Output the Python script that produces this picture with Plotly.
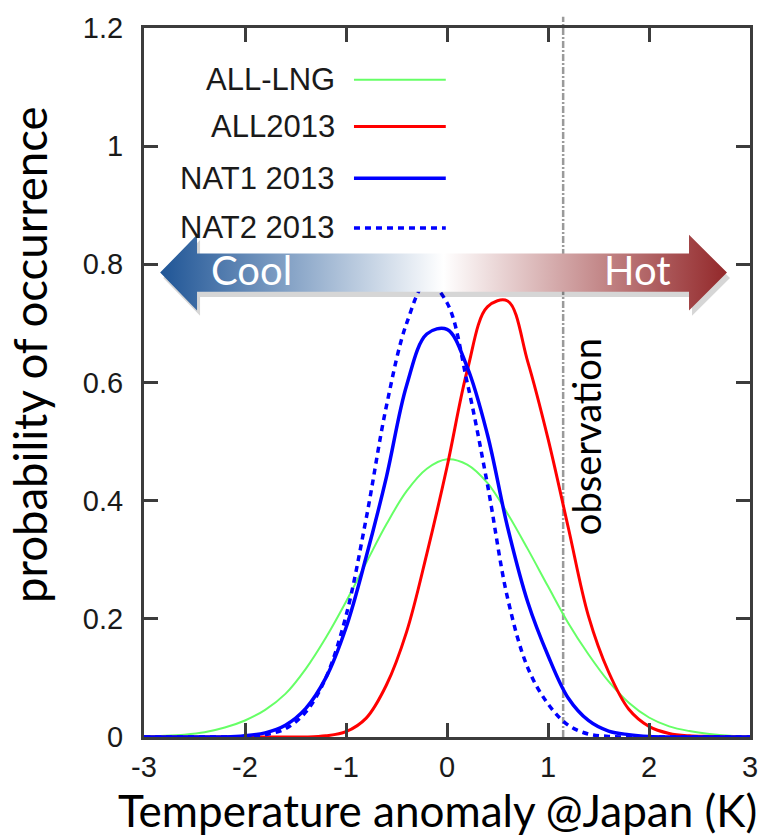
import plotly.graph_objects as go

# ---------------- data ----------------
x_grid = [-3.0, -2.8, -2.6, -2.4, -2.2, -2.0, -1.8, -1.6, -1.4, -1.2, -1.0,
          -0.8, -0.6, -0.4, -0.2, 0.0, 0.2, 0.4, 0.6, 0.8, 1.0,
          1.2, 1.4, 1.6, 1.8, 2.0, 2.2, 2.4, 2.6, 2.8, 3.0]

all_lng = [0.001, 0.002, 0.004, 0.008, 0.016, 0.028, 0.046, 0.073, 0.115, 0.168, 0.229,
           0.295, 0.360, 0.416, 0.454, 0.470, 0.461, 0.430, 0.378, 0.318, 0.255,
           0.193, 0.140, 0.094, 0.058, 0.033, 0.018, 0.010, 0.005, 0.002, 0.001]

all2013 = [0.0, 0.0, 0.0, 0.0, 0.0, 0.0, 0.0, 0.0, 0.0, 0.002, 0.009,
           0.032, 0.088, 0.178, 0.310, 0.457, 0.620, 0.728, 0.738, 0.635, 0.505,
           0.355, 0.205, 0.110, 0.047, 0.018, 0.006, 0.002, 0.001, 0.0, 0.0]

nat1_2013 = [0.0, 0.0, 0.0, 0.0, 0.0, 0.002, 0.007, 0.020, 0.048, 0.100, 0.185,
             0.305, 0.440, 0.595, 0.682, 0.690, 0.626, 0.512, 0.355, 0.228, 0.138,
             0.066, 0.028, 0.010, 0.004, 0.001, 0.0, 0.0, 0.0, 0.0, 0.0]

nat2_2013 = [0.0, 0.0, 0.0, 0.0, 0.0, 0.001, 0.004, 0.014, 0.042, 0.100, 0.205,
             0.370, 0.560, 0.700, 0.770, 0.735, 0.600, 0.428, 0.235, 0.117, 0.056,
             0.020, 0.005, 0.001, 0.0, 0.0, 0.0, 0.0, 0.0, 0.0, 0.0]

series_names = ["ALL-LNG", "ALL2013", "NAT1 2013", "NAT2 2013"]
observation_x = 1.15

x_ticks = [-3, -2, -1, 0, 1, 2, 3]
x_tick_text = ["-3", "-2", "-1", "0", "1", "2", "3"]
y_ticks = [0, 0.2, 0.4, 0.6, 0.8, 1.0, 1.2]
y_tick_text = ["0", "0.2", "0.4", "0.6", "0.8", "1", "1.2"]

# ---------------- styles ----------------
styles = [
    dict(color="#66ff66", width=2.0, dash="solid"),
    dict(color="#ff0000", width=3.0, dash="solid"),
    dict(color="#0000ff", width=3.5, dash="solid"),
    dict(color="#0000ff", width=3.5, dash="6px,5px"),
]
series_values = [all_lng, all2013, nat1_2013, nat2_2013]

TICK_FONT = dict(family="Liberation Sans, Arial", size=29, color="#1a1a1a")
TITLE_FONT = dict(family="Lato, Carlito, Calibri", size=44, color="#000000")
FRAME = "#3c3c3c"

fig = go.Figure()

for name, ys, st in zip(series_names, series_values, styles):
    fig.add_trace(go.Scatter(
        x=x_grid, y=ys, mode="lines", name=name, showlegend=False,
        line=dict(color=st["color"], width=st["width"], dash=st["dash"],
                  shape="spline", smoothing=1.0),
        hoverinfo="skip"))

# ---------------- Cool / Hot arrow (decoration) ----------------
ax_tip_l, ax_base_l, ax_base_r, ax_tip_r = -2.84, -2.475, 2.396, 2.772
ay_c, ay_bar, ay_head = 0.786, 0.0325, 0.064
arrow_x = [ax_tip_l, ax_base_l, ax_base_l, ax_base_r, ax_base_r, ax_tip_r,
           ax_base_r, ax_base_r, ax_base_l, ax_base_l, ax_tip_l]
arrow_y = [ay_c, ay_c + ay_head, ay_c + ay_bar, ay_c + ay_bar, ay_c + ay_head, ay_c,
           ay_c - ay_head, ay_c - ay_bar, ay_c - ay_bar, ay_c - ay_head, ay_c]

fig.add_trace(go.Scatter(
    x=[v + 0.03 for v in arrow_x], y=[v - 0.009 for v in arrow_y],
    mode="lines", fill="toself", fillcolor="rgba(0,0,0,0.16)",
    line=dict(width=0), showlegend=False, hoverinfo="skip"))
fig.add_trace(go.Scatter(
    x=arrow_x, y=arrow_y, mode="lines", fill="toself",
    fillgradient=dict(type="horizontal", start=ax_tip_l, stop=ax_tip_r,
                      colorscale=[[0.0, "#1f5596"], [0.5, "#ffffff"], [1.0, "#93282a"]]),
    line=dict(width=0), showlegend=False, hoverinfo="skip"))

annotations = [
    dict(x=-1.94, y=0.79, xref="x", yref="y", text="Cool", showarrow=False,
         font=dict(family="Lato, Carlito", size=40, color="white")),
    dict(x=1.89, y=0.79, xref="x", yref="y", text="Hot", showarrow=False,
         font=dict(family="Lato, Carlito", size=40, color="white")),
    dict(x=observation_x + 0.225, y=0.509, xref="x", yref="y", text="observation",
         textangle=-90, showarrow=False,
         font=dict(family="Lato, Carlito", size=38, color="black")),
    dict(x=0.485, y=-0.1035, xref="paper", yref="paper", yanchor="middle",
         text="Temperature anomaly @Japan (K)", showarrow=False, font=TITLE_FONT),
    dict(x=-0.19, y=0.54, xref="paper", yref="paper", xanchor="center",
         text="probability of occurrence", textangle=-90, showarrow=False,
         font=dict(family="Lato, Carlito, Calibri", size=45.5, color="#000000")),
]

# legend (text on the left, sample line on the right)
leg_y = [0.927, 0.861, 0.788, 0.718]
shapes = []
for name, st, yy in zip(series_names, styles, leg_y):
    annotations.append(dict(x=0.318, y=yy, xref="paper", yref="paper", xanchor="right",
                            yanchor="middle", text=name, showarrow=False,
                            font=dict(family="Liberation Sans, Arial", size=31, color="#1a1a1a")))
    shapes.append(dict(type="line", xref="paper", yref="paper", x0=0.3465, x1=0.498,
                       y0=yy, y1=yy,
                       line=dict(color=st["color"], width=st["width"], dash=st["dash"])))

# observation line
shapes.append(dict(type="line", xref="x", yref="paper", x0=observation_x, x1=observation_x,
                   y0=0, y1=1.016, layer="below",
                   line=dict(color="#9a9a9a", width=2.5, dash="7px,2px,2px,2px")))

fig.update_layout(
    width=779, height=836,
    margin=dict(l=144, r=29, t=20, b=99),
    plot_bgcolor="white", paper_bgcolor="white",
    annotations=annotations, shapes=shapes,
    showlegend=False,
)
fig.update_xaxes(range=[-3, 3], tickvals=x_ticks, ticktext=x_tick_text, ticks="inside",
                 ticklen=14, tickwidth=2.5,
                 tickcolor=FRAME, showline=True, linewidth=3, linecolor=FRAME, mirror="ticks",
                 showgrid=False, zeroline=False, tickfont=TICK_FONT, ticklabelstandoff=2)
fig.update_yaxes(range=[0, 1.2], tickvals=y_ticks, ticktext=y_tick_text, ticks="inside",
                 ticklen=14, tickwidth=2.5, tickcolor=FRAME, showline=True, linewidth=3,
                 linecolor=FRAME, mirror="ticks", showgrid=False, zeroline=False,
                 tickfont=TICK_FONT, ticklabelstandoff=12)

fig.write_html("out.html")
